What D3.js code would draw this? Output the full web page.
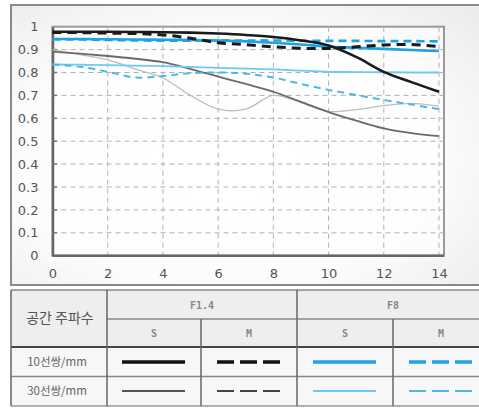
<!DOCTYPE html>
<html><head><meta charset="utf-8">
<script src="https://cdn.jsdelivr.net/npm/d3@7"></script>
<style>body{margin:0;background:#fff}svg{display:block}</style>
</head><body>
<script>
const freq = [0,1,2,3,4,5,6,7,8,9,10,11,12,13,14];
const xTicks = [0,2,4,6,8,10,12,14];
const yTicks = [0,0.1,0.2,0.3,0.4,0.5,0.6,0.7,0.8,0.9,1];
const f14_10_S = [0.978,0.978,0.978,0.977,0.976,0.974,0.970,0.964,0.955,0.940,0.918,0.868,0.803,0.758,0.716];
const f14_10_M = [0.975,0.974,0.972,0.970,0.964,0.950,0.930,0.922,0.912,0.906,0.905,0.912,0.920,0.922,0.913];
const f8_10_S  = [0.946,0.946,0.945,0.944,0.943,0.942,0.940,0.936,0.930,0.922,0.913,0.908,0.903,0.898,0.894];
const f8_10_M  = [0.945,0.944,0.942,0.940,0.939,0.939,0.940,0.940,0.940,0.939,0.938,0.938,0.937,0.937,0.936];
const f14_30_S = [0.891,0.882,0.872,0.860,0.845,0.815,0.782,0.750,0.716,0.672,0.627,0.590,0.556,0.535,0.522];
const f14_30_M = [0.900,0.878,0.855,0.815,0.776,0.700,0.640,0.640,0.700,0.668,0.630,0.638,0.655,0.665,0.652];
const f8_30_S  = [0.835,0.834,0.832,0.830,0.828,0.824,0.820,0.817,0.814,0.808,0.803,0.802,0.801,0.800,0.800];
const f8_30_M  = [0.835,0.825,0.803,0.778,0.785,0.797,0.800,0.795,0.778,0.750,0.724,0.702,0.680,0.660,0.640];
const headerLabel = "공간 주파수";
const apertures = ["F1.4","F8"];
const orient = ["S","M"];
const rowLabels = ["10선쌍/mm","30선쌍/mm"];

const W=479,H=408;
const svg=d3.select("body").append("svg").attr("width",W).attr("height",H);
const defs=svg.append("defs");
const g1=defs.append("radialGradient").attr("id","pbg").attr("cx","45%").attr("cy","55%").attr("r","75%");
g1.append("stop").attr("offset","0%").attr("stop-color","#ffffff");
g1.append("stop").attr("offset","60%").attr("stop-color","#fcfcfc");
g1.append("stop").attr("offset","100%").attr("stop-color","#ececec");

svg.append("rect").attr("x",11).attr("y",5).attr("width",W-11+2).attr("height",280)
  .attr("fill","url(#pbg)").attr("stroke","#8a8a8a").attr("stroke-width",2);

const x=d3.scaleLinear().domain([0,14]).range([52.5,439]);
const y=d3.scaleLinear().domain([0,1]).range([255.7,26.7]);

svg.append("rect").attr("x",52.5).attr("y",26.7).attr("width",444-52.5).attr("height",255.7-26.7)
  .attr("fill","#fff").attr("fill-opacity",0.5).attr("stroke","#9a9a9a").attr("stroke-width",2);

const grid=svg.append("g").attr("stroke","#b0b0b0").attr("stroke-width",1).attr("stroke-dasharray","5,4");
grid.selectAll("line.h").data(yTicks.filter(d=>d>0&&d<1)).join("line")
  .attr("x1",52.5).attr("x2",444).attr("y1",d=>y(d)).attr("y2",d=>y(d));
grid.selectAll("line.v").data(xTicks.filter(d=>d>0)).join("line")
  .attr("y1",26.7).attr("y2",255.7).attr("x1",d=>x(d)).attr("x2",d=>x(d));

const yAxis=d3.axisLeft(y).tickValues(yTicks).tickSize(0).tickPadding(14).tickFormat(d=>d3.format("~g")(d));
const gy=svg.append("g").attr("transform","translate(52.5,0)").call(yAxis);
gy.select(".domain").attr("stroke","#666").attr("stroke-width",2.5);
gy.selectAll("text").attr("font-family","DejaVu Sans").attr("font-size",13).attr("fill","#555");
svg.append("g").selectAll("line").data(yTicks.filter(d=>d>0&&d<1)).join("line")
  .attr("x1",52.5).attr("x2",57).attr("y1",d=>y(d)).attr("y2",d=>y(d)).attr("stroke","#777").attr("stroke-width",1.5);

const xAxis=d3.axisBottom(x).tickValues(xTicks).tickSize(0).tickPadding(13);
const gx=svg.append("g").attr("transform","translate(0,255.7)").call(xAxis);
gx.select(".domain").remove();
svg.append("line").attr("x1",52.5).attr("x2",444).attr("y1",255.7).attr("y2",255.7).attr("stroke","#666").attr("stroke-width",2.5);
gx.selectAll("text").attr("font-family","DejaVu Sans").attr("font-size",13).attr("fill","#555");

const line=d3.line().x((d,i)=>x(freq[i])).y(d=>y(d)).curve(d3.curveCatmullRom.alpha(0.5));
const series=[
  {v:f14_30_M,c:"#bdbdbd",w:1.3,d:null},
  {v:f14_30_S,c:"#6a6a6a",w:1.8,d:null},
  {v:f8_30_S,c:"#6ccaf2",w:1.8,d:null},
  {v:f8_30_M,c:"#4cb8ea",w:2,d:"7,5"},
  {v:f8_10_S,c:"#1ea2e6",w:2.6,d:null},
  {v:f8_10_M,c:"#1ea2e6",w:2.6,d:"8,5"},
  {v:f14_10_M,c:"#1a1a1a",w:3,d:"9,6"},
  {v:f14_10_S,c:"#1a1a1a",w:2.6,d:null}
];
svg.append("g").selectAll("path").data(series).join("path")
  .attr("d",s=>line(s.v)).attr("fill","none").attr("stroke",s=>s.c)
  .attr("stroke-width",s=>s.w).attr("stroke-dasharray",s=>s.d);

const T=svg.append("g");
T.append("rect").attr("x",11).attr("y",290).attr("width",W).attr("height",57).attr("fill","#eeeeee");
T.append("rect").attr("x",11).attr("y",347).attr("width",W).attr("height",59).attr("fill","#f7f7f7");
const hl=[[11,W,290,1.5,"#888"],[107,W,319,1.5,"#888"],[11,W,347,2,"#444"],[11,W,376.5,1.5,"#888"],[11,W,406,1.5,"#999"]];
T.selectAll("line.h").data(hl).join("line").attr("x1",d=>d[0]).attr("x2",d=>d[1]).attr("y1",d=>d[2]).attr("y2",d=>d[2])
  .attr("stroke",d=>d[4]).attr("stroke-width",d=>d[3]);
const vl=[[11,290,406],[107,290,406],[297,290,406],[201,319,406],[393,319,406]];
T.selectAll("line.v").data(vl).join("line").attr("x1",d=>d[0]).attr("x2",d=>d[0]).attr("y1",d=>d[1]).attr("y2",d=>d[2])
  .attr("stroke","#666").attr("stroke-width",1.5);

T.append("text").attr("x",60).attr("y",323).attr("text-anchor","middle").attr("font-family","Noto Sans CJK KR")
  .attr("font-size",14).attr("fill","#555").text(headerLabel);
const apX=[202,393];
T.selectAll("text.ap").data(apertures).join("text").attr("x",(d,i)=>apX[i]).attr("y",309).attr("text-anchor","middle")
  .attr("font-family","DejaVu Sans Mono").attr("font-size",10).attr("font-weight","bold").attr("fill","#888").text(d=>d);
const colX=[154,249,345,441];
T.selectAll("text.or").data(colX).join("text").attr("x",d=>d).attr("y",337).attr("text-anchor","middle")
  .attr("font-family","DejaVu Sans Mono").attr("font-size",10).attr("font-weight","bold").attr("fill","#888").text((d,i)=>orient[i%2]);
const rowY=[362,391];
T.selectAll("text.row").data(rowLabels).join("text").attr("x",57).attr("y",(d,i)=>rowY[i]+4).attr("text-anchor","middle")
  .attr("font-family","Noto Sans CJK KR").attr("font-size",11.5).attr("fill","#666").text(d=>d);

const leg=[
  {r:0,c:0,col:"#111",w:3.5,d:null},{r:0,c:1,col:"#111",w:3.5,d:"17,6"},
  {r:0,c:2,col:"#1ea2e6",w:3.5,d:null},{r:0,c:3,col:"#1ea2e6",w:3.5,d:"17,6"},
  {r:1,c:0,col:"#555",w:2,d:null},{r:1,c:1,col:"#444",w:2,d:"17,6"},
  {r:1,c:2,col:"#6ccaf2",w:2,d:null},{r:1,c:3,col:"#4cb8ea",w:2,d:"17,6"}
];
T.selectAll("line.leg").data(leg).join("line").attr("x1",d=>colX[d.c]-32).attr("x2",d=>colX[d.c]+31)
  .attr("y1",d=>rowY[d.r]).attr("y2",d=>rowY[d.r]).attr("stroke",d=>d.col).attr("stroke-width",d=>d.w)
  .attr("stroke-dasharray",d=>d.d);
</script>
</body></html>
